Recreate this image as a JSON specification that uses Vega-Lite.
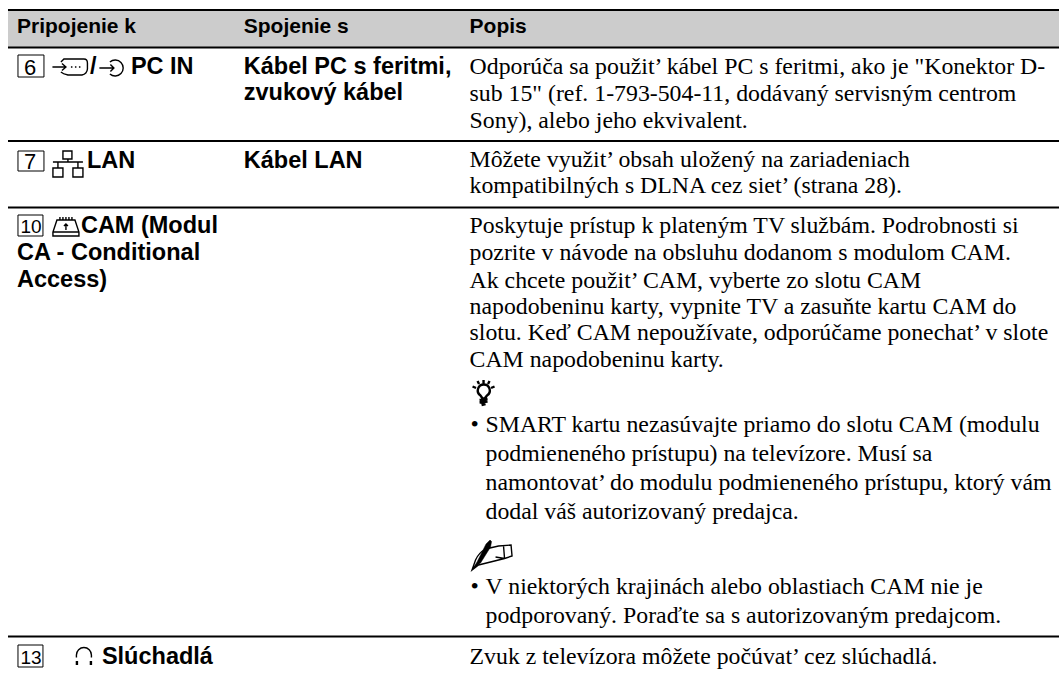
{
"$schema":"https://vega.github.io/schema/vega-lite/v6.json",
"width":1060,"height":674,"padding":0,
"autosize":{"type":"fit","contains":"padding"},
"background":"white",
"config":{"view":{"stroke":null},"axis":{"domain":false,"grid":false,"ticks":false,"labels":false,"title":null}},
"datasets":{
"band":[{"x":8,"x2":1060,"y":10,"y2":48}],
"rules":[{"x":8,"x2":1060,"y":10},{"x":8,"x2":1060,"y":47.5},{"x":8,"x2":1060,"y":141},{"x":8,"x2":1060,"y":207.5},{"x":8,"x2":1060,"y":636.5}],
"boxes":[{"x":18,"x2":44,"y":55,"y2":77},{"x":18,"x2":44,"y":151,"y2":171},{"x":18,"x2":43,"y":215,"y2":236},{"x":18,"x2":43,"y":645,"y2":667}],
"nums":[{"x":24,"y":75,"t":"6"},{"x":24,"y":169,"t":"7"}],
"nums2":[{"x":20.5,"y":233,"t":"10"},{"x":20.5,"y":664,"t":"13"}],
"head":[{"x":17,"y":33,"t":"Pripojenie k"},{"x":244,"y":33,"t":"Spojenie s"},{"x":470,"y":33,"t":"Popis"}],
"bold":[
{"x":90,"y":74,"t":"/"},{"x":131,"y":74,"t":"PC IN"},
{"x":244,"y":74,"t":"Kábel PC s feritmi,"},{"x":244,"y":100,"t":"zvukový kábel"},
{"x":87,"y":168,"t":"LAN"},{"x":244,"y":168,"t":"Kábel LAN"},
{"x":81,"y":233,"t":"CAM (Modul"},{"x":17,"y":260,"t":"CA - Conditional"},{"x":17,"y":287,"t":"Access)"},
{"x":102,"y":664,"t":"Slúchadlá"}],
"body":[
{"x":470,"y":74,"t":"Odporúča sa použit’ kábel PC s feritmi, ako je \"Konektor D-"},
{"x":470,"y":100.5,"t":"sub 15\" (ref. 1-793-504-11, dodávaný servisným centrom"},
{"x":470,"y":127.5,"t":"Sony), alebo jeho ekvivalent."},
{"x":470,"y":167,"t":"Môžete využit’ obsah uložený na zariadeniach"},
{"x":470,"y":193,"t":"kompatibilných s DLNA cez siet’ (strana 28)."},
{"x":470,"y":233,"t":"Poskytuje prístup k plateným TV službám. Podrobnosti si"},
{"x":470,"y":260,"t":"pozrite v návode na obsluhu dodanom s modulom CAM."},
{"x":470,"y":288,"t":"Ak chcete použit’ CAM, vyberte zo slotu CAM"},
{"x":470,"y":314,"t":"napodobeninu karty, vypnite TV a zasuňte kartu CAM do"},
{"x":470,"y":340,"t":"slotu. Keď CAM nepoužívate, odporúčame ponechat’ v slote"},
{"x":470,"y":367,"t":"CAM napodobeninu karty."},
{"x":471,"y":432,"t":"•"},
{"x":486,"y":432,"t":"SMART kartu nezasúvajte priamo do slotu CAM (modulu"},
{"x":486,"y":461,"t":"podmieneného prístupu) na televízore.  Musí sa"},
{"x":486,"y":490,"t":"namontovat’ do modulu podmieneného prístupu, ktorý vám"},
{"x":486,"y":519,"t":"dodal váš autorizovaný predajca."},
{"x":471,"y":594,"t":"•"},
{"x":486,"y":594,"t":"V niektorých krajinách alebo oblastiach CAM nie je"},
{"x":486,"y":623,"t":"podporovaný. Poraďte sa s autorizovaným predajcom."},
{"x":470,"y":664,"t":"Zvuk z televízora môžete počúvat’ cez slúchadlá."}],
"icons":[
{"x":70,"y":67,"icon":"scart"},{"x":113,"y":68,"icon":"pcin"},{"x":68,"y":164,"icon":"lan"},{"x":66,"y":227,"icon":"cam"},{"x":84,"y":655,"icon":"phones"},{"x":492,"y":555,"icon":"note"}],
"tip":[{"x":484,"y":393}],
"pencil":[{"x":492,"y":555}]
},
"encoding":{},
"layer":[
{"data":{"name":"band"},"mark":{"type":"rect","fill":"#cccccc"},"encoding":{"x":{"field":"x","type":"quantitative","scale":{"domain":[0,1060],"nice":false,"zero":false},"axis":null},"x2":{"field":"x2"},"y":{"field":"y","type":"quantitative","scale":{"domain":[674,0],"nice":false,"zero":false},"axis":null},"y2":{"field":"y2"}}},
{"data":{"name":"rules"},"mark":{"type":"rule","color":"black","strokeWidth":2},"encoding":{"x":{"field":"x","type":"quantitative","scale":{"domain":[0,1060],"nice":false,"zero":false},"axis":null},"x2":{"field":"x2"},"y":{"field":"y","type":"quantitative","scale":{"domain":[674,0],"nice":false,"zero":false},"axis":null}}},
{"data":{"name":"boxes"},"mark":{"type":"rect","fill":null,"stroke":"black","strokeWidth":1},"encoding":{"x":{"field":"x","type":"quantitative","scale":{"domain":[0,1060],"nice":false,"zero":false},"axis":null},"x2":{"field":"x2"},"y":{"field":"y","type":"quantitative","scale":{"domain":[674,0],"nice":false,"zero":false},"axis":null},"y2":{"field":"y2"}}},
{"data":{"name":"nums"},"mark":{"type":"text","font":"Liberation Sans","fontSize":22,"align":"left","baseline":"alphabetic","color":"black"},"encoding":{"x":{"field":"x","type":"quantitative","scale":{"domain":[0,1060],"nice":false,"zero":false},"axis":null},"y":{"field":"y","type":"quantitative","scale":{"domain":[674,0],"nice":false,"zero":false},"axis":null},"text":{"field":"t"}}},
{"data":{"name":"nums2"},"mark":{"type":"text","font":"Liberation Sans","fontSize":19,"align":"left","baseline":"alphabetic","color":"black"},"encoding":{"x":{"field":"x","type":"quantitative","scale":{"domain":[0,1060],"nice":false,"zero":false},"axis":null},"y":{"field":"y","type":"quantitative","scale":{"domain":[674,0],"nice":false,"zero":false},"axis":null},"text":{"field":"t"}}},
{"data":{"name":"head"},"mark":{"type":"text","font":"Liberation Sans","fontWeight":"bold","fontSize":21,"align":"left","baseline":"alphabetic","color":"black"},"encoding":{"x":{"field":"x","type":"quantitative","scale":{"domain":[0,1060],"nice":false,"zero":false},"axis":null},"y":{"field":"y","type":"quantitative","scale":{"domain":[674,0],"nice":false,"zero":false},"axis":null},"text":{"field":"t"}}},
{"data":{"name":"bold"},"mark":{"type":"text","font":"Liberation Sans","fontWeight":"bold","fontSize":23.5,"align":"left","baseline":"alphabetic","color":"black"},"encoding":{"x":{"field":"x","type":"quantitative","scale":{"domain":[0,1060],"nice":false,"zero":false},"axis":null},"y":{"field":"y","type":"quantitative","scale":{"domain":[674,0],"nice":false,"zero":false},"axis":null},"text":{"field":"t"}}},
{"data":{"name":"body"},"mark":{"type":"text","font":"Liberation Serif","fontSize":23.8,"align":"left","baseline":"alphabetic","color":"black"},"encoding":{"x":{"field":"x","type":"quantitative","scale":{"domain":[0,1060],"nice":false,"zero":false},"axis":null},"y":{"field":"y","type":"quantitative","scale":{"domain":[674,0],"nice":false,"zero":false},"axis":null},"text":{"field":"t"}}},
{"data":{"name":"icons"},"mark":{"type":"point","filled":false,"stroke":"black","strokeWidth":1.4,"size":400,"opacity":1},"encoding":{"x":{"field":"x","type":"quantitative","scale":{"domain":[0,1060],"nice":false,"zero":false},"axis":null},"y":{"field":"y","type":"quantitative","scale":{"domain":[674,0],"nice":false,"zero":false},"axis":null},"shape":{"field":"icon","type":"nominal","legend":null,"scale":{"domain":["scart","pcin","lan","cam","phones","note"],"range":[
"M-1.75 0L-.4 0M-.8 -.35L-.4 0L-.8 .35M-.9 -.5L-.6 -.8L1.4 -.8Q1.75 -.8 1.75 -.4L1.75 .2Q1.7 .7 1.2 .8L-.2 .8Q-.7 .7 -.9 .5M.1 0L.25 0M.5 0L.65 0M.9 0L1.05 0",
"M-1.35 0L.1 0M-.25 -.35L.1 0L-.25 .35M-.3 -.6A.8 .8 0 1 1 -.3 .6",
"M-.5 -1.3L.4 -1.3L.4 -.5L-.5 -.5ZM0 -.5L0 -.2M-1.5 -.2L1.5 -.2M-1 -.2L-1 .4M1 -.2L1 .4M-1.5 .4L-.5 .4L-.5 1.3L-1.5 1.3ZM.5 .4L1.5 .4L1.5 1.3L.5 1.3Z",
"M-.9 -.7L.9 -.7L1.3 .5L1.3 .9L-1.3 .9L-1.3 .5ZM-1.3 .5L1.3 .5M-.6 -.7L-.6 -1M-.3 -.7L-.3 -1M0 -.7L0 -1M.3 -.7L.3 -1M.6 -.7L.6 -1M0 .3L0 -.3M-.2 -.1L0 -.3L.2 -.1",
"M-.75 .25L-.75 0A.75 .75 0 0 1 .75 0L.75 .25M-.75 .6L-.75 1M.75 .6L.75 1M-.65 .6L-.65 1M.65 .6L.65 1",
"M-1.95 1.5L-1.6 .5Q-1.3 -.2 -.6 -.6L.7 -.9L1.95 -1L2.05 .1L1.3 .35L-1.3 1ZM-1.5 1L-1.85 1.4M.4 .2L1.3 .35M1.2 -.9L1.3 .35"
]}}}},
{"data":{"name":"tip"},"mark":{"type":"point","filled":false,"stroke":"black","strokeWidth":2.4,"size":400,"opacity":1,"shape":"M-.3 .25A.6 .6 0 1 1 .35 .25L.1 .55L-.1 .55ZM-.4 .7L.4 .6M-.4 .95L.4 .85M-.2 1.2L.2 1.1M0 -1.3L0 -.95M-.6 -1.2L-.45 -.9M.6 -1.2L.45 -.9M-1.1 -.65L-.75 -.5M1.1 -.65L.75 -.5"},"encoding":{"x":{"field":"x","type":"quantitative","scale":{"domain":[0,1060],"nice":false,"zero":false},"axis":null},"y":{"field":"y","type":"quantitative","scale":{"domain":[674,0],"nice":false,"zero":false},"axis":null}}},
{"data":{"name":"pencil"},"mark":{"type":"point","filled":true,"fill":"black","stroke":"black","strokeWidth":0.5,"size":400,"opacity":1,"shape":"M-1.9 1.4L-1.45 .7L-.55 -1.1L-.15 -1.5L0 -1.35L-.1 -.8L-1.1 .8Z"},"encoding":{"x":{"field":"x","type":"quantitative","scale":{"domain":[0,1060],"nice":false,"zero":false},"axis":null},"y":{"field":"y","type":"quantitative","scale":{"domain":[674,0],"nice":false,"zero":false},"axis":null}}}
]
}
